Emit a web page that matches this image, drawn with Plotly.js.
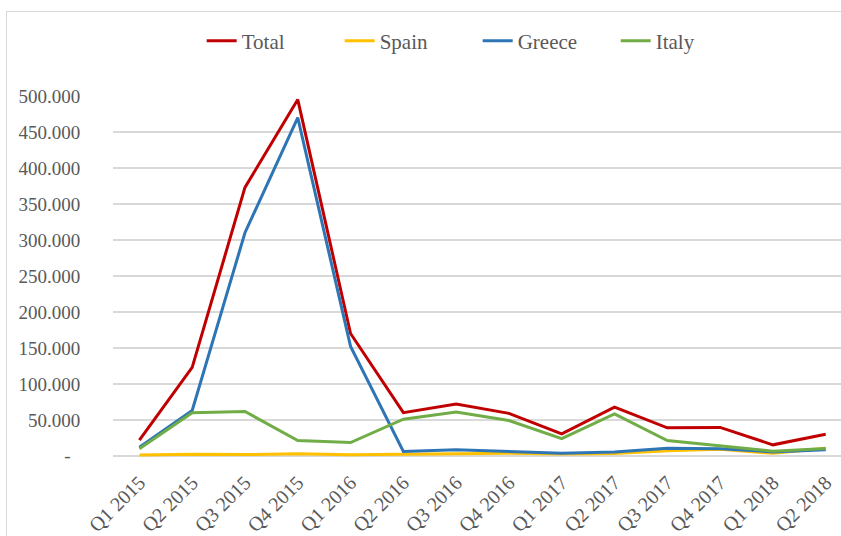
<!DOCTYPE html>
<html>
<head>
<meta charset="utf-8">
<script src="https://cdn.plot.ly/plotly-3.0.1.min.js"></script>
<style>
  html, body { margin: 0; padding: 0; background: #ffffff; overflow: hidden; width: 841px; height: 536px; }
  #frame { position: absolute; left: 6px; top: 11px; width: 1000px; height: 1000px; border: 1.5px solid #d9d9d9; }
  #chart { position: absolute; left: 0; top: 0; width: 841px; height: 536px; }
</style>
</head>
<body>
<div id="frame"></div>
<div id="chart"></div>
<script>
const quarters = ["Q1 2015","Q2 2015","Q3 2015","Q4 2015","Q1 2016","Q2 2016","Q3 2016","Q4 2016","Q1 2017","Q2 2017","Q3 2017","Q4 2017","Q1 2018","Q2 2018"];
const total  = [22000, 123000, 373000, 495000, 170000, 60000, 72000, 59000, 30500, 67600, 38900, 39500, 15300, 30100];
const spain  = [1000, 2200, 1700, 3000, 1500, 2000, 2700, 3500, 2500, 3300, 7000, 9000, 3500, 10500];
const greece = [12000, 63000, 310000, 470000, 152000, 6000, 8300, 6000, 3700, 5500, 10600, 10000, 5500, 8300];
const italy  = [10000, 60000, 61600, 21300, 18500, 51000, 61000, 49000, 24000, 58300, 21300, 14400, 6500, 10200];
const yTickVals = [0, 50000, 100000, 150000, 200000, 250000, 300000, 350000, 400000, 450000, 500000];
const yTickText = ["-\u00a0\u00a0", "50.000", "100.000", "150.000", "200.000", "250.000", "300.000", "350.000", "400.000", "450.000", "500.000"];

const font = "'Liberation Serif', 'DejaVu Serif', serif";
const textColor = "#595959";

function series(name, values, color) {
  return { type: "scatter", mode: "lines", name: name, x: quarters, y: values,
           line: { color: color, width: 3 } };
}

const data = [
  series("Total", total, "#C00000"),
  series("Spain", spain, "#FFC000"),
  series("Greece", greece, "#2E75B6"),
  series("Italy", italy, "#70AD47")
];

const layout = {
  width: 841, height: 536,
  margin: { l: 113, r: 0, t: 96, b: 78 },
  paper_bgcolor: "rgba(0,0,0,0)",
  plot_bgcolor: "rgba(0,0,0,0)",
  font: { family: font, size: 19, color: textColor },
  showlegend: true,
  legend: {
    orientation: "h", xref: "container", yref: "container",
    x: 0.568, xanchor: "center", y: 0.9235, yanchor: "middle",
    font: { family: font, size: 21, color: textColor },
    entrywidth: 93, entrywidthmode: "pixels"
  },
  xaxis: {
    type: "category", range: [-0.5, 13.29],
    showgrid: false, showline: false, zeroline: false,
    tickangle: -45, ticks: "outside", ticklen: 4, tickcolor: "rgba(0,0,0,0)",
    tickfont: { family: font, size: 20, color: textColor }
  },
  yaxis: {
    range: [-3000, 500000],
    tickmode: "array", tickvals: yTickVals, ticktext: yTickText,
    showgrid: true, gridcolor: "#d9d9d9", gridwidth: 1.5,
    zeroline: true, zerolinecolor: "#d9d9d9", zerolinewidth: 1.5,
    showline: false,
    ticks: "outside", ticklen: 28, tickcolor: "rgba(0,0,0,0)",
    tickfont: { family: font, size: 19, color: textColor }
  }
};

Plotly.newPlot("chart", data, layout, { displayModeBar: false, staticPlot: true });
</script>
</body>
</html>
